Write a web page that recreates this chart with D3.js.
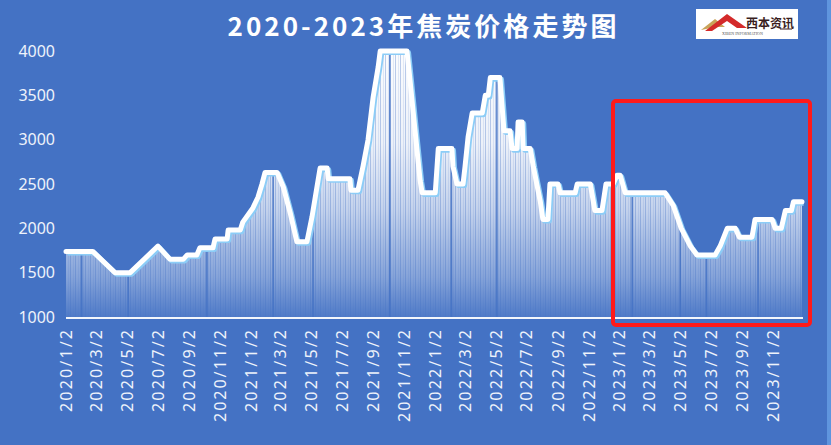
<!DOCTYPE html>
<html><head><meta charset="utf-8">
<script src="https://cdn.jsdelivr.net/npm/d3@7/dist/d3.min.js"></script>
<style>html,body{margin:0;padding:0;background:#4472C4;overflow:hidden}svg{display:block}</style>
</head><body><div id="chart"></div>
<script>
const title = "2020-2023年焦炭价格走势图";
// price path vertices (date, price)
const dates = [
"2020-01-02","2020-02-24","2020-04-08","2020-05-08","2020-07-02","2020-07-26","2020-08-21","2020-08-29","2020-09-17","2020-09-23","2020-10-19","2020-10-23","2020-11-16","2020-11-18","2020-12-12","2020-12-17","2021-01-06","2021-01-16","2021-01-24","2021-01-30","2021-02-23","2021-03-07","2021-03-21","2021-04-03","2021-04-23","2021-05-03","2021-05-19","2021-06-02","2021-06-04","2021-07-17","2021-07-19","2021-08-02","2021-08-12","2021-08-22","2021-09-01","2021-09-11","2021-09-15","2021-11-07","2021-11-13","2021-11-23","2021-12-03","2021-12-07","2022-01-02","2022-01-08","2022-02-04","2022-02-06","2022-02-14","2022-02-26","2022-03-02","2022-03-08","2022-03-16","2022-04-05","2022-04-11","2022-04-17","2022-04-21","2022-05-10","2022-05-18","2022-05-30","2022-06-03","2022-06-13","2022-06-15","2022-06-23","2022-06-25","2022-07-09","2022-07-15","2022-07-29","2022-08-03","2022-08-13","2022-08-17","2022-09-02","2022-09-06","2022-10-06","2022-10-10","2022-11-05","2022-11-14","2022-11-28","2022-12-06","2022-12-20","2022-12-28","2023-01-03","2023-01-13","2023-04-02","2023-04-18","2023-05-04","2023-05-22","2023-06-04","2023-07-10","2023-07-20","2023-08-03","2023-08-19","2023-08-27","2023-09-21","2023-09-27","2023-10-31","2023-11-06","2023-11-18","2023-11-26","2023-12-08","2023-12-12","2023-12-29"];
const prices = [
1740,1740,1500,1500,1800,1650,1650,1700,1700,1780,1780,1880,1880,1980,1980,2070,2230,2350,2500,2630,2630,2470,2170,1850,1850,2130,2680,2680,2560,2560,2430,2430,2700,3000,3480,3820,4000,4000,3670,3100,2540,2400,2400,2900,2900,2700,2500,2500,2700,3030,3300,3300,3500,3500,3700,3700,3100,3100,2900,2900,3200,3200,2900,2900,2700,2300,2100,2100,2500,2500,2400,2400,2500,2500,2200,2200,2500,2500,2600,2600,2400,2400,2260,2000,1800,1700,1700,1800,2000,2000,1900,1900,2100,2100,2000,2000,2200,2200,2300,2300];
// days with no bar (holidays)
const gapDates = ["2020-02-02","2020-05-04","2020-10-07","2021-02-15","2021-05-05","2021-10-04","2022-02-03","2022-05-04","2023-01-27","2023-05-02","2023-06-23","2023-10-03"];
const yTicks = [1000,1500,2000,2500,3000,3500,4000];
const xTickLabels = ["2020/1/2","2020/3/2","2020/5/2","2020/7/2","2020/9/2","2020/11/2","2021/1/2","2021/3/2","2021/5/2","2021/7/2","2021/9/2","2021/11/2","2022/1/2","2022/3/2","2022/5/2","2022/7/2","2022/9/2","2022/11/2","2023/1/2","2023/3/2","2023/5/2","2023/7/2","2023/9/2","2023/11/2"];

const W = 831, H = 445;
const parse = d3.timeParse("%Y-%m-%d");
const parseTick = d3.timeParse("%Y/%m/%d");
const data = dates.map((d,i)=>({date:parse(d), v:prices[i]}));

const svg = d3.select("#chart").append("svg").attr("width",W).attr("height",H);
svg.append("rect").attr("width",W).attr("height",H).attr("fill","#4472C4");
svg.append("rect").attr("x",827).attr("y",0).attr("width",4).attr("height",H).attr("fill","#5f95de");

const x = d3.scaleTime().domain([parse("2020-01-02"), parse("2023-12-31")]).range([66, 803]);
const y = d3.scaleLinear().domain([1000,4000]).range([317, 51]);

const defs = svg.append("defs");
const grad = defs.append("linearGradient").attr("id","g").attr("gradientUnits","userSpaceOnUse")
  .attr("x1",0).attr("x2",0).attr("y1",50).attr("y2",317);
[[0,0.98],[0.35,0.9],[0.6,0.68],[0.85,0.35],[1,0.06]].forEach(s=>{
  grad.append("stop").attr("offset",s[0]).attr("stop-color","#ffffff").attr("stop-opacity",s[1]);
});
const pat = defs.append("pattern").attr("id","stripes").attr("patternUnits","userSpaceOnUse")
  .attr("width",5).attr("height",10);
pat.append("rect").attr("x",0).attr("width",1).attr("height",10).attr("fill","#4472C4").attr("opacity",0.35);
pat.append("rect").attr("x",3).attr("width",0.7).attr("height",10).attr("fill","#4472C4").attr("opacity",0.2);

const area = d3.area().x(d=>x(d.date)).y0(y(1000)).y1(d=>y(d.v));
const line = d3.line().x(d=>x(d.date)).y(d=>y(d.v));

defs.append("clipPath").attr("id","ac").append("path").attr("d",area(data));

svg.append("path").attr("d",area(data)).attr("fill","url(#g)");
svg.append("path").attr("d",area(data)).attr("fill","url(#stripes)");
svg.append("g").attr("clip-path","url(#ac)").selectAll("rect").data(gapDates).join("rect")
  .attr("x",d=>x(parse(d))-0.8).attr("width",1.6).attr("y",40).attr("height",280)
  .attr("fill","#4472C4").attr("opacity",0.85);

// glow line
svg.append("path").attr("d",line(data)).attr("fill","none").attr("stroke","#8ccdf7")
  .attr("stroke-width",5).attr("stroke-linejoin","round").attr("transform","translate(1.6,1.6)");
svg.append("path").attr("d",line(data)).attr("fill","none").attr("stroke","#ffffff")
  .attr("stroke-width",5).attr("stroke-linejoin","round").attr("stroke-linecap","round");

// baseline
svg.append("line").attr("x1",66).attr("x2",803).attr("y1",y(1000)+1).attr("y2",y(1000)+1)
  .attr("stroke","#f2f6fc").attr("stroke-width",2);

// y axis
const yAxis = svg.append("g").attr("transform","translate(66,0)")
  .call(d3.axisLeft(y).tickValues(yTicks).tickSize(0).tickPadding(11).tickFormat(d3.format("d")));
yAxis.select(".domain").remove();
yAxis.selectAll("text").attr("fill","#eef3fb").attr("font-family","'Noto Sans', 'Open Sans', sans-serif").attr("font-size",16);

// x axis labels
const xAxis = svg.append("g")
  .call(d3.axisBottom(x).tickValues(xTickLabels.map(parseTick)).tickSize(0).tickFormat(d3.timeFormat("%Y/%-m/%-d")));
xAxis.select(".domain").remove();
xAxis.selectAll(".tick").attr("transform",d=>`translate(${x(d)},330)`);
xAxis.selectAll("text").attr("fill","#eef3fb").attr("font-family","'Noto Sans', 'Open Sans', sans-serif").attr("font-size",16)
  .attr("transform","rotate(-90)").attr("text-anchor","end").attr("x",0).attr("y",0).attr("dy","0.36em")
  .attr("textLength",function(){return this.textContent.length===9?92:82;}).attr("lengthAdjust","spacing");

// title
svg.append("text").attr("x",422).attr("y",36).attr("text-anchor","middle").attr("fill","#ffffff")
  .attr("font-family","'Noto Sans CJK SC', sans-serif").attr("font-weight","bold").attr("font-size",26)
  .attr("textLength",389).attr("lengthAdjust","spacing").text(title);

// logo
const logo = svg.append("g");
logo.append("rect").attr("x",696).attr("y",9).attr("width",102).attr("height",30).attr("fill","#ffffff");
logo.append("path").attr("d","M701,30 L715,19 L725,27 L716,27 Z").attr("fill","#c9a35a");
logo.append("path").attr("d","M705,31 L727,14 L747,28 L737,28 L727,21 L712,31 Z").attr("fill","#d42a2a");
logo.append("text").attr("x",746).attr("y",28).attr("font-family","'Noto Sans CJK SC', sans-serif")
  .attr("font-size",12).attr("font-weight","bold").attr("fill","#3a1e1e").text("西本资讯");
logo.append("line").attr("x1",780).attr("x2",792).attr("y1",29).attr("y2",29).attr("stroke","#3a1e1e").attr("stroke-width",1);
logo.append("text").attr("x",722).attr("y",35).attr("font-family","'Liberation Serif', serif")
  .attr("font-size",4).attr("fill","#555").text("XIBEN INFORMATION");

// highlight box
svg.append("rect").attr("x",613).attr("y",101).attr("width",197).attr("height",224).attr("rx",3)
  .attr("fill","none").attr("stroke","#ff1a1a").attr("stroke-width",4);
</script></body></html>
